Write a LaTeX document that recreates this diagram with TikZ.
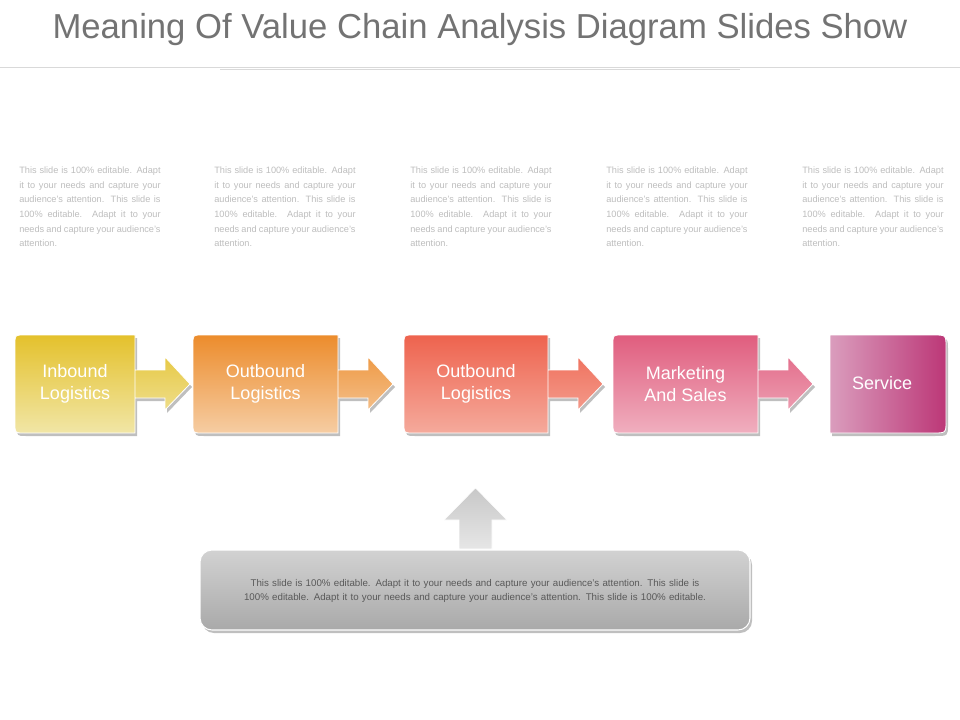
\documentclass[tikz,border=0pt]{standalone}
\usepackage{fontspec}
\setmainfont{Liberation Sans}
\usetikzlibrary{calc}
\newcommand\vcpath[2]{(#2,370) -- (#2,433) -- (#1+9,433) .. controls (#1,433) .. (#1,424) -- (#1,344) .. controls (#1,335) .. (#1+9,335) -- (#2,335) -- (#2,370) -- (#2+30,370) -- (#2+30,357) -- (#2+55,384) -- (#2+30,410) -- (#2+30,398) -- (#2,398) -- cycle}
\newcommand\vcstep[6]{%
  \fill[black,opacity=0.25] [shift={(2,3)}] \vcpath{#1}{#2};
  \shade[top color=#3,bottom color=#4,draw=white,line width=0.6pt] \vcpath{#1}{#2};
  \node[boxtext] (#5) at ({(#1+#2)/2},384) {#6};}
\definecolor{para}{HTML}{BDBDBD}
\definecolor{c1a}{HTML}{E4C12C}\definecolor{c1b}{HTML}{F1E6A6}
\definecolor{c2a}{HTML}{EC8C2C}\definecolor{c2b}{HTML}{F6CDA3}
\definecolor{c3a}{HTML}{EE634E}\definecolor{c3b}{HTML}{F5AA9C}
\definecolor{c4a}{HTML}{E05D7E}\definecolor{c4b}{HTML}{F0AFBF}
\definecolor{c5a}{HTML}{DA9DBD}\definecolor{c5b}{HTML}{BC3777}
\definecolor{g1}{HTML}{D2D2D2}\definecolor{g2}{HTML}{A9A9A9}
\definecolor{g3}{HTML}{C8C8C8}\definecolor{g4}{HTML}{E6E6E6}
\begin{document}
\begin{tikzpicture}[x=0.75pt,y=-0.75pt,
  boxtext/.style={text=white,font=\fontsize{13.5pt}{16.5pt}\selectfont,align=center},
  paratext/.style={text=para,anchor=north west,inner sep=0pt,text width=106pt,align=justify,font=\fontsize{6.9pt}{10.9pt}\selectfont}]
\useasboundingbox (0,0) rectangle (960,720);
\node[text=black!55,font=\fontsize{26pt}{30pt}\selectfont] (title) at (480,30) {Meaning Of Value Chain Analysis Diagram Slides Show};
\draw[black!15] (0,67) -- (960,67);
\draw[black!15] (220,69.5) -- (740,69.5);
\foreach \x/\n in {19/p1,214/p2,410/p3,606/p4,802/p5}
  \node[paratext] (\n) at (\x,167) {This slide is 100\% editable. Adapt it to your needs and capture your audience's attention. This slide is 100\% editable. Adapt it to your needs and capture your audience's attention.};
\vcstep{15}{135}{c1a}{c1b}{s1}{Inbound\\Logistics}
\vcstep{193}{338}{c2a}{c2b}{s2}{Outbound\\Logistics}
\vcstep{404}{548}{c3a}{c3b}{s3}{Outbound\\Logistics}
\vcstep{613}{758}{c4a}{c4b}{s4}{Marketing\\And Sales}
% service
\fill[black,opacity=0.25] (832,338) -- (935,338) .. controls (948,338) .. (948,350) -- (948,425) .. controls (948,436) .. (935,436) -- (832,436) -- cycle;
\shade[left color=c5a,right color=c5b,draw=white,line width=0.6pt] (830,335) -- (933,335) .. controls (946,335) .. (946,347) -- (946,421) .. controls (946,433) .. (933,433) -- (830,433) -- cycle;
\node[boxtext] (s5) at (882,383) {Service};
% bottom box
\fill[black,opacity=0.25,rounded corners=9] (202,553) rectangle (752,633);
\shade[top color=g1,bottom color=g2,draw=white,line width=0.8pt,rounded corners=9] (200,550) rectangle (750,630);
\node[text=black!65,text width=375pt,align=center,font=\fontsize{7.3pt}{10.5pt}\selectfont] (bt) at (475,591) {This slide is 100\% editable. Adapt it to your needs and capture your audience's attention. This slide is 100\% editable. Adapt it to your needs and capture your audience's attention. This slide is 100\% editable.};
\shade[top color=g3,bottom color=g4,draw=white] (459,549) -- (459,520) -- (444,520) -- (475.5,488) -- (507,520) -- (492,520) -- (492,549) -- cycle;
\end{tikzpicture}
\end{document}
